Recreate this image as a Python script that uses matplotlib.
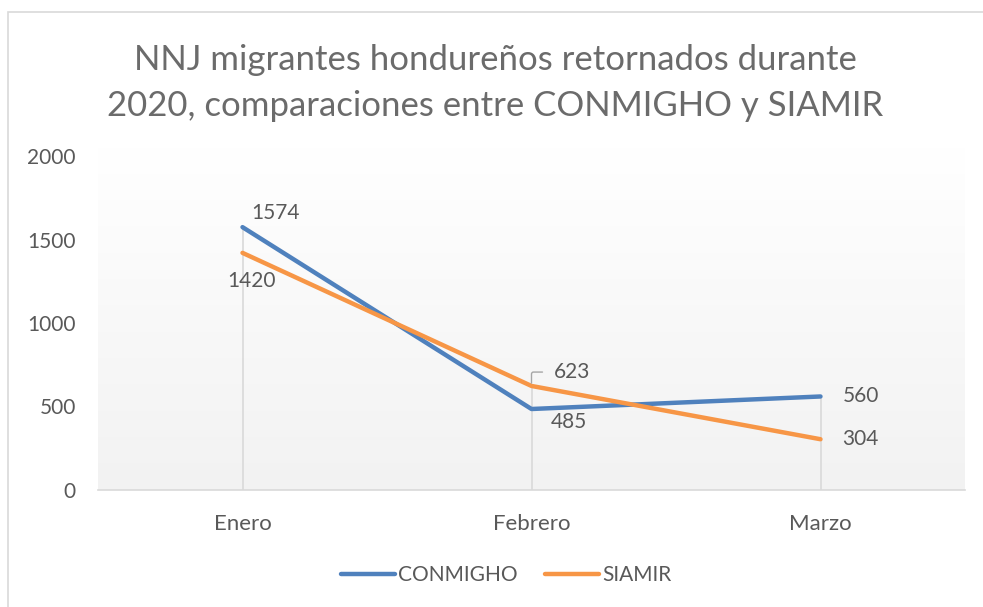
import matplotlib
matplotlib.use("Agg")
import matplotlib.pyplot as plt
import numpy as np
from matplotlib.colors import LinearSegmentedColormap
from matplotlib.patches import Rectangle

plt.rcParams['font.family'] = ['Lato', 'DejaVu Sans']

# datos
meses = ['Enero', 'Febrero', 'Marzo']
conmigho = [1574, 485, 560]
siamir = [1420, 623, 304]
yticks = [0, 500, 1000, 1500, 2000]
titulo = 'NNJ migrantes hondureños retornados durante\n2020, comparaciones entre CONMIGHO y SIAMIR'

azul = '#4F81BD'
naranja = '#F79646'
gris = '#595959'

W, H = 983, 607
fig = plt.figure(figsize=(W / 100, H / 100), dpi=100)

# borde del grafico
fig.patches.append(Rectangle((8 / W, -0.1), 1.2, (H - 12) / H + 0.1, transform=fig.transFigure,
                             fill=False, edgecolor='#d9d9d9', lw=1.2))

ax = fig.add_axes([98 / W, (H - 490) / H, (965 - 98) / W, (490 - 147) / H])
ytop = 2000 * (490 - 147) / (490 - 156)
ax.set_xlim(-0.5, 2.5)
ax.set_ylim(0, ytop)

# fondo degradado
cmap = LinearSegmentedColormap.from_list('fondo', ['#f2f2f2', '#ffffff'])
grad = np.linspace(0, 1, 256).reshape(-1, 1)
ax.imshow(grad, extent=[-0.5, 2.5, 0, ytop], aspect='auto', cmap=cmap, origin='lower', zorder=0)

x = np.arange(len(meses))
# lineas de caida
ax.vlines(x, 0, np.maximum(conmigho, siamir), color='#d9d9d9', lw=1.2, zorder=1)

ax.plot(x, conmigho, color=azul, lw=3.2, solid_capstyle='round', label='CONMIGHO', zorder=3)
ax.plot(x, siamir, color=naranja, lw=3.2, solid_capstyle='round', label='SIAMIR', zorder=3)

# etiquetas de datos
fs = 15
off_c = [(24, 10), (27, -9), (29, 0)]
off_s = [(6.5, -20), (29, 10), (29, 0)]
for i in range(3):
    ax.annotate(str(conmigho[i]), (x[i], conmigho[i]), xytext=off_c[i], textcoords='offset points',
                ha='center', va='center', fontsize=fs, color=gris)
for i in range(3):
    if i == 1:
        ax.annotate(str(siamir[i]), (x[i], siamir[i]), xytext=off_s[i], textcoords='offset points',
                    ha='center', va='center', fontsize=fs, color=gris,
                    arrowprops=dict(arrowstyle='-', color='#a6a6a6', lw=1,
                                    connectionstyle='angle,angleA=0,angleB=90,rad=2',
                                    relpos=(0, 0.5), shrinkA=6, shrinkB=2))
    else:
        ax.annotate(str(siamir[i]), (x[i], siamir[i]), xytext=off_s[i], textcoords='offset points',
                    ha='center', va='center', fontsize=fs, color=gris)

ax.set_yticks(yticks)
ax.set_xticks(x)
ax.set_xticklabels(meses)
ax.tick_params(axis='y', length=0, pad=16, labelsize=15, labelcolor=gris)
ax.tick_params(axis='x', length=0, pad=17, labelsize=16, labelcolor=gris)
for s in ['top', 'right', 'left']:
    ax.spines[s].set_visible(False)
ax.spines['bottom'].set_color('#d9d9d9')
ax.spines['bottom'].set_linewidth(1.2)
ax.spines['bottom'].set_zorder(2)

fig.text(495 / W, 1 - 83 / H, titulo, ha='center', va='center', fontsize=25, color='#6b6b6b',
         linespacing=1.5)

fig.legend(loc='center', bbox_to_anchor=(506 / W, 1 - 575 / H), ncol=2, frameon=False,
           fontsize=15, handlelength=2.6, handletextpad=0.15, columnspacing=1.3, labelcolor=gris)

fig.savefig('out.png', dpi=100)
